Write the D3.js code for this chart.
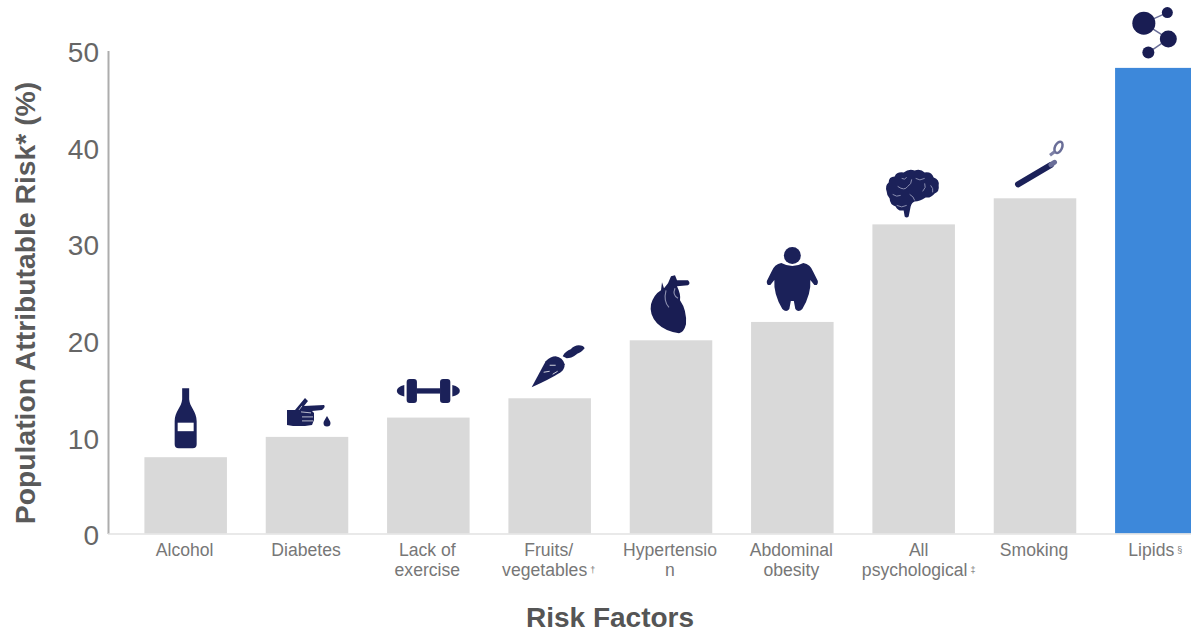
<!DOCTYPE html>
<html>
<head>
<meta charset="utf-8">
<script src="https://cdn.jsdelivr.net/npm/d3@7/dist/d3.min.js"></script>
<style>
  html, body { margin: 0; padding: 0; background: #fff; }
  svg { display: block; font-family: "Liberation Sans", Arial, sans-serif; }
</style>
</head>
<body>
<svg id="chart" width="1191" height="633"></svg>
<script>
// Risk factors and their population attributable risk (%)
const categories = ["Alcohol", "Diabetes", "Lack of exercise", "Fruits/vegetables", "Hypertension",
  "Abdominal obesity", "All psychological", "Smoking", "Lipids"];
const values = [7.9, 10, 12, 14, 20, 21.9, 32, 34.7, 48.2];
const highlighted = ["Lipids"];
const tickValues = [0, 10, 20, 30, 40, 50];
const labelLines = [["Alcohol"], ["Diabetes"], ["Lack of", "exercise"], ["Fruits/", "vegetables"],
  ["Hypertensio", "n"], ["Abdominal", "obesity"], ["All", "psychological"], ["Smoking"], ["Lipids"]];
const footnoteMarks = ["", "", "", "†", "", "", "‡", "", "§"];

const NAVY = "#1b2159";
const svg = d3.select("#chart");

const x = d3.scaleBand().domain(categories).range([125, 1217]).paddingInner(0.32).paddingOuter(0.16);
const y = d3.scaleLinear().domain([0, 50]).range([533.5, 50.5]);

// Bars
svg.append("g").selectAll("rect").data(categories).join("rect")
  .attr("x", d => x(d))
  .attr("width", x.bandwidth())
  .attr("y", (d, i) => y(values[i]))
  .attr("height", (d, i) => y(0) - y(values[i]))
  .attr("fill", d => highlighted.includes(d) ? "#3d88da" : "#d9d9d9");

// Axes
const yAxis = svg.append("g").attr("transform", "translate(108,0)")
  .call(d3.axisLeft(y).tickValues(tickValues).tickSize(0).tickPadding(9));
yAxis.select(".domain").attr("stroke", "#adadad").attr("stroke-width", 2);
yAxis.selectAll("text").attr("font-size", 28).attr("fill", "#666").attr("font-family", "Liberation Sans")
  .attr("dy", "0.4em");

const xAxis = svg.append("g").attr("transform", "translate(0,534)")
  .call(d3.axisBottom(x).tickSize(0).tickFormat(""));
xAxis.select(".domain").attr("stroke", "#e2e2e2").attr("stroke-width", 1.5).attr("d", "M108,0H1191");

// Category labels, wrapped over up to two lines
const labels = xAxis.selectAll(".tick").select("text")
  .attr("font-size", 17.6).attr("fill", "#777").attr("font-family", "Liberation Sans")
  .attr("y", 0).attr("dy", null);
labels.each(function (d, i) {
  const t = d3.select(this);
  labelLines[i].forEach((line, j) => {
    const isLast = j === labelLines[i].length - 1;
    t.append("tspan").attr("x", -1).attr("y", 22 + j * 19.5).text(line);
    if (isLast && footnoteMarks[i]) {
      t.append("tspan").attr("dx", 3).attr("font-size", 9).attr("dy", -3).text(footnoteMarks[i]);
    }
  });
  // The longest label sits slightly right of its bar
  if (d === "All psychological") t.attr("transform", "translate(6,0)");
});

// Axis titles
svg.append("text").attr("transform", "translate(35,303) rotate(-90)")
  .attr("text-anchor", "middle").attr("font-size", 28.3).attr("font-weight", 700).attr("fill", "#5a5a5a")
  .text("Population Attributable Risk* (%)");
svg.append("text").attr("x", 610).attr("y", 627).attr("text-anchor", "middle")
  .attr("font-size", 28).attr("font-weight", 700).attr("fill", "#555").text("Risk Factors");

// Pictograms: each draws around the origin, the centre of its bar's top edge
const icons = {
  "Alcohol": g => {
    g.append("path").attr("fill", NAVY).attr("d",
      "M-3.5,-69H3.5V-58C4,-50 11,-46 11,-36V-13Q11,-9 7,-9H-7Q-11,-9 -11,-13V-36C-11,-46 -4,-50 -3.5,-58Z");
    g.append("rect").attr("x", -8).attr("y", -34.5).attr("width", 16).attr("height", 8.5).attr("fill", "#fff");
  },
  "Diabetes": g => {
    g.append("path").attr("fill", NAVY).attr("d",
      "M-20,-27H-12L-2,-39L1,-36L-3,-31L17,-32Q19,-30 15,-27L5,-26L7,-24V-17L5,-12L-2,-11H-14L-20,-12Z");
    g.append("path").attr("fill", "none").attr("stroke", "#fff").attr("stroke-width", 0.7)
      .attr("d", "M-6,-25L4,-24M-5,-20L6,-20M-5,-16L6,-16M-8,-27L-5,-31");
    g.append("path").attr("fill", NAVY).attr("d", "M20,-21C21.5,-18 23.5,-16 23.5,-14A3.5,3.5 0 0 1 16.5,-14C16.5,-16 18.5,-18 20,-21Z");
  },
  "Lack of exercise": g => {
    g.append("rect").attr("x", -12).attr("y", -29.3).attr("width", 24).attr("height", 5.3).attr("fill", NAVY);
    [[-21.7], [11.7]].forEach(([px]) => g.append("rect").attr("x", px).attr("y", -38.7).attr("width", 10.3)
      .attr("height", 24).attr("rx", 3).attr("fill", NAVY));
    g.append("path").attr("fill", NAVY).attr("d", "M-24,-32.5V-21Q-31.5,-23 -31.5,-26.7Q-31.5,-30.5 -24,-32.5Z");
    g.append("path").attr("fill", NAVY).attr("d", "M24,-32.5V-21Q31.5,-23 31.5,-26.7Q31.5,-30.5 24,-32.5Z");
  },
  "Fruits/vegetables": g => {
    g.append("path").attr("fill", NAVY).attr("d",
      "M-18,-11L-4,-37Q1,-42 6,-42Q13,-41 15,-34Q15,-29 11,-26Q0,-19 -18,-11Z");
    g.append("path").attr("fill", NAVY).attr("d",
      "M13,-42C15,-46 18,-48 21,-49C24,-52 26,-53 29,-53Q34,-53 35,-50C32,-46 28,-45 27,-44C23,-41 20,-40 17,-40Z");
    g.append("path").attr("fill", "none").attr("stroke", "#fff").attr("stroke-width", 0.8)
      .attr("d", "M-6,-26L0,-27M0,-33L6,-33M3,-24L8,-27");
  },
  "Hypertension": g => {
    g.append("path").attr("fill", "#191d53").attr("d",
      "M-9,-58L-7,-52L-3,-57L0,-64L4,-65L6,-60H17Q20,-57 17,-55L6,-54Q10,-46 9,-40Q16,-30 15,-16Q13,-8 8,-7Q-6,-9 -14,-17Q-22,-26 -20,-36Q-17,-46 -10,-50Z");
    g.append("path").attr("fill", "none").attr("stroke", "#8d90b0").attr("stroke-width", 1.1)
      .attr("d", "M-5,-50C-7,-42 -5,-36 -2,-33M4,-52C2,-47 3,-44 7,-42");
  },
  "Abdominal obesity": g => {
    g.append("circle").attr("cy", -66.5).attr("r", 8.5).attr("fill", NAVY);
    g.append("path").attr("fill", NAVY).attr("d",
      "M-11,-59Q0,-53 11,-59Q18,-58 21,-50L25.5,-41Q26,-36 22,-37L18,-42Q19,-28 10,-13Q6,-9 3,-13L1.5,-21H-1.5L-3,-13Q-6,-9 -10,-13Q-19,-28 -18,-42L-22,-37Q-26,-36 -25.5,-41L-21,-50Q-18,-58 -11,-59Z");
  },
  "All psychological": g => {
    g.append("path").attr("fill", NAVY).attr("d",
      "M-27,-33Q-29,-39 -25,-42Q-25,-48 -19,-48Q-17,-53 -10,-52Q-5,-56 1,-54Q7,-56 11,-52Q18,-53 20,-47Q26,-45 25,-39Q26,-33 21,-31Q17,-26 12,-27Q6,-23 1,-23Q-2,-22 -3,-18L-5,-8Q-7,-6 -9,-8L-10,-14Q-16,-13 -18,-18Q-24,-20 -24,-26Q-27,-29 -27,-33Z");
    g.append("path").attr("fill", "none").attr("stroke", "#8a8eb0").attr("stroke-width", 1)
      .attr("d", "M-16,-38Q-9,-33 -6,-38Q-2,-40 -2,-45M2,-46Q6,-43 11,-46M9,-33Q13,-37 11,-41M17,-39Q20,-36 19,-32M-17,-19Q-12,-16 -7,-19M-4,-30Q0,-28 1,-24M-21,-30Q-17,-27 -13,-29M-12,-46Q-9,-44 -7,-47");
  },
  "Smoking": g => {
    g.append("line").attr("x1", -17).attr("y1", -14).attr("x2", 16).attr("y2", -33.5)
      .attr("stroke", NAVY).attr("stroke-width", 6).attr("stroke-linecap", "round");
    g.append("line").attr("x1", 16).attr("y1", -33.5).attr("x2", 19.5).attr("y2", -36)
      .attr("stroke", "#6a6e98").attr("stroke-width", 5).attr("stroke-linecap", "round");
    g.append("ellipse").attr("cx", 23.5).attr("cy", -51).attr("rx", 3.5).attr("ry", 6)
      .attr("transform", "rotate(25 23.5 -51)").attr("fill", "#fff").attr("stroke", "#6a6e98").attr("stroke-width", 2.5);
    g.append("line").attr("x1", 19.5).attr("y1", -46.5).attr("x2", 15).attr("y2", -43)
      .attr("stroke", "#7d80a6").attr("stroke-width", 3);
  },
  "Lipids": g => {
    g.append("path").attr("fill", "none").attr("stroke", "#6a6e98").attr("stroke-width", 1.5)
      .attr("d", "M-12.5,-44.7L11,-55.3M-12.5,-44.7L12,-29M12,-29L-8,-15.3");
    [[-12.5, -44.7, 11.5], [11, -55.3, 5.5], [12, -29, 8.5], [-8, -15.3, 6]].forEach(([cx, cy, r]) =>
      g.append("circle").attr("cx", cx).attr("cy", cy).attr("r", r).attr("fill", "#191d53"));
  }
};

categories.forEach((c, i) => {
  const g = svg.append("g")
    .attr("transform", `translate(${x(c) + x.bandwidth() / 2},${y(values[i])})`);
  icons[c](g);
});
</script>
</body>
</html>
